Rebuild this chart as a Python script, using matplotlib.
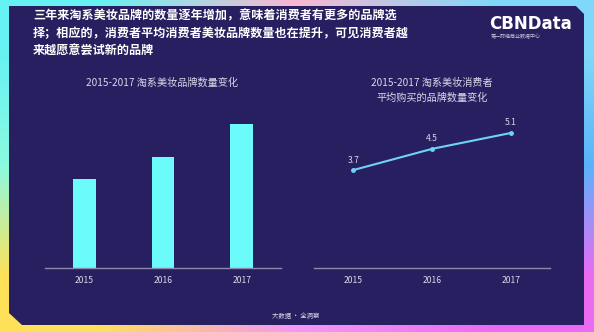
import matplotlib
matplotlib.use("Agg")
import matplotlib.pyplot as plt
import numpy as np
from matplotlib.patches import Polygon

plt.rcParams['font.family'] = ['Noto Sans CJK SC', 'DejaVu Sans']

# data ----------------------------------------------------------
years = ["2015", "2016", "2017"]
brand_counts = [89, 111, 144]          # no labels in the source
avg_brands = [3.7, 4.5, 5.1]

headline = ["三年来淘系美妆品牌的数量逐年增加，意味着消费者有更多的品牌选",
            "择；相应的，消费者平均消费者美妆品牌数量也在提升，可见消费者越",
            "来越愿意尝试新的品牌"]
left_title = "2015-2017 淘系美妆品牌数量变化"
right_title = "2015-2017 淘系美妆消费者\n平均购买的品牌数量变化"
footer = "大数据 · 全洞察"

panel_color = "#281F60"
bar_color = "#6CFBFB"
line_color = "#6FD3F2"
text_light = "#D8D8E8"
axis_color = "#8C88AE"

W, H = 594, 332
fig = plt.figure(figsize=(W / 100, H / 100), dpi=100)

# colourful frame behind the panel
bg = fig.add_axes([0, 0, 1, 1])
grad = np.array([
    [[0.40, 0.95, 0.95], [0.98, 0.72, 0.82], [0.50, 0.85, 0.98]],
    [[0.55, 0.98, 0.88], [0.80, 0.70, 0.95], [0.35, 0.70, 0.98]],
    [[1.00, 0.88, 0.35], [0.95, 0.60, 0.95], [0.92, 0.42, 0.95]],
])
bg.imshow(grad, extent=[0, W, H, 0], interpolation='bilinear', aspect='auto')
panel = Polygon([(9, 6), (576, 6), (584, 14), (584, 325), (22, 325), (9, 313)],
                closed=True, facecolor=panel_color, edgecolor='none')
bg.add_patch(panel)
bg.set_xlim(0, W)
bg.set_ylim(H, 0)
bg.axis('off')


def px(x, y):
    return x / W, 1 - y / H


# headline
for i, line in enumerate(headline):
    fig.text(*px(33, 16 + i * 17.5), line, color='white', fontsize=8.7,
             fontweight='bold', va='center', ha='left')

# logo
fig.text(*px(530, 24), "CBNData", color='white', fontsize=12,
         fontweight='bold', ha='center', va='center', family='DejaVu Sans')
fig.text(*px(491, 37), "第一财经商业数据中心", color='#C8C8DC', fontsize=3.6,
         ha='left', va='center')

fig.text(*px(296, 316), footer, color='#D8D8E8', fontsize=4.6,
         ha='center', va='center')

# axes setup
ax_w, ax_h = 236 / W, 180 / H
ax1 = fig.add_axes([45 / W, 64 / H, ax_w, ax_h])
ax2 = fig.add_axes([314 / W, 64 / H, ax_w, ax_h])

x = np.arange(len(years))
ax1.bar(x, brand_counts, width=0.29, color=bar_color)
ax1.set_ylim(0, 180)

ax2.plot(x, avg_brands, color=line_color, lw=1.5, marker='o', markersize=2.5)
for xi, v in zip(x, avg_brands):
    ax2.annotate(f"{v}", (xi, v), xytext=(0, 4), textcoords='offset points',
                 ha='center', va='bottom', color=text_light, fontsize=6.2)
ax2.set_ylim(0, 6.8)

for ax in (ax1, ax2):
    ax.set_facecolor('none')
    ax.set_xlim(-0.5, 2.5)
    ax.set_xticks(x)
    ax.set_xticklabels(years, color=text_light, fontsize=6.2)
    ax.tick_params(axis='x', length=0, pad=6)
    ax.set_yticks([])
    for s in ('top', 'right', 'left'):
        ax.spines[s].set_visible(False)
    ax.spines['bottom'].set_color(axis_color)
    ax.spines['bottom'].set_linewidth(1)

fig.text(*px(162, 83), left_title, color=text_light, fontsize=7.3,
         ha='center', va='center')
fig.text(*px(432, 90), right_title, color=text_light, fontsize=7.3,
         ha='center', va='center', linespacing=1.5)

fig.savefig("out.png", dpi=100)
